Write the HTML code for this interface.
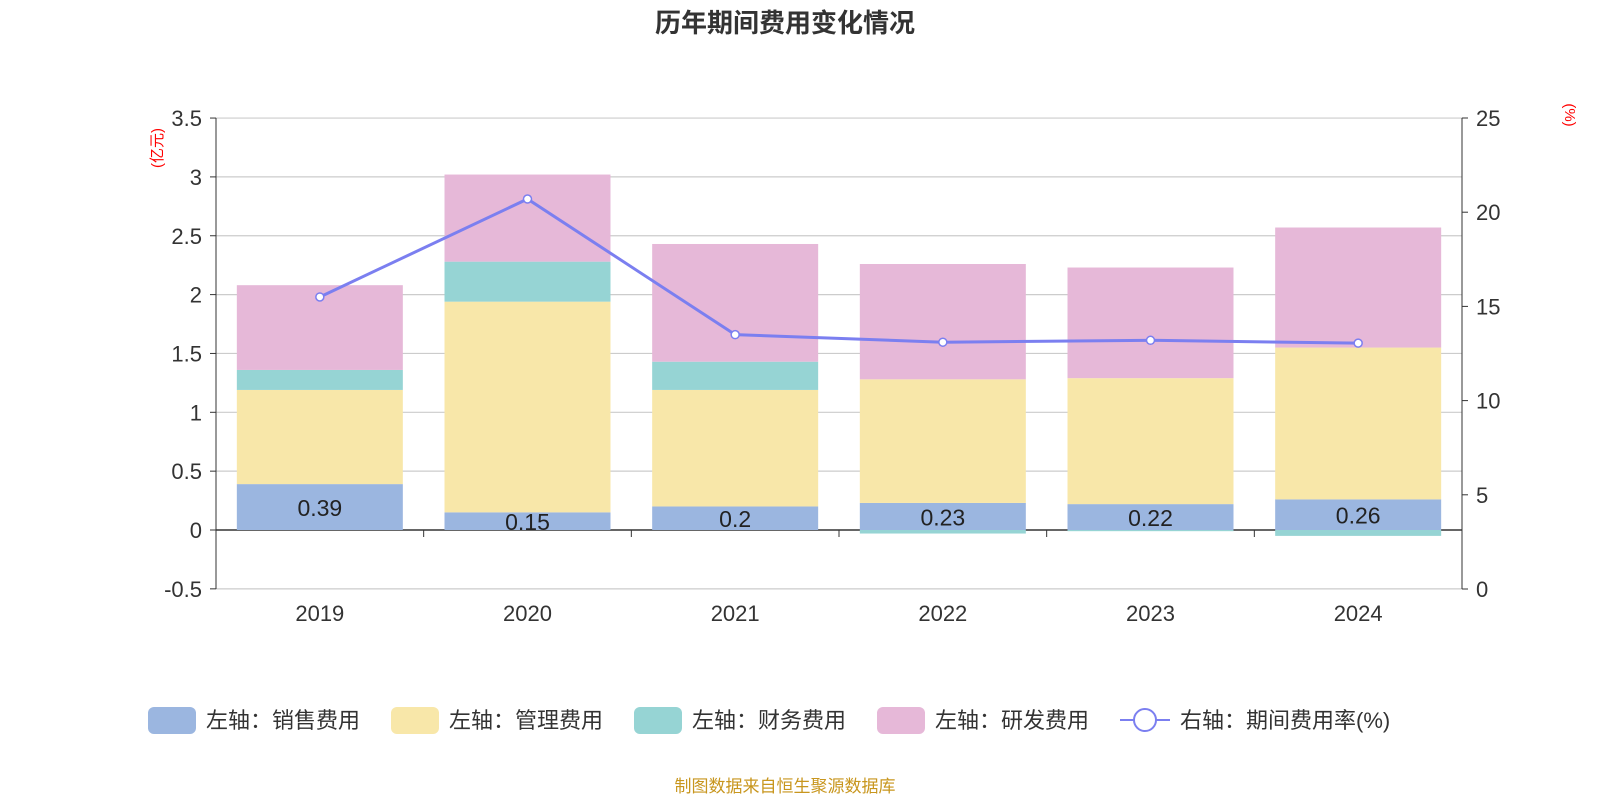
<!DOCTYPE html>
<html><head><meta charset="utf-8"><style>
body{margin:0;background:#fff;font-family:"Liberation Sans","Noto Sans CJK SC",sans-serif;}
svg text{font-family:"Liberation Sans","Noto Sans CJK SC",sans-serif;}
</style></head><body>
<svg id="c" width="1600" height="800" xmlns="http://www.w3.org/2000/svg">
<text x="785" y="32" text-anchor="middle" font-size="26" font-weight="bold" fill="#333">历年期间费用变化情况</text>
<text transform="translate(162,148) rotate(-90)" text-anchor="middle" font-size="15" fill="red">(亿元)</text>
<text transform="translate(1565,115) rotate(90)" text-anchor="middle" font-size="15" fill="red">(%)</text>
<g id="grid"></g><g id="bars"></g><g id="axes"></g><g id="line"></g>
<text x="785" y="792" text-anchor="middle" font-size="17" fill="#c8961e">制图数据来自恒生聚源数据库</text>
<g id="legend"></g>
</svg>
<script>
const categories=["2019","2020","2021","2022","2023","2024"];
const sales=[0.39,0.15,0.2,0.23,0.22,0.26];
const mgmt=[0.80,1.79,0.99,1.05,1.07,1.29];
const finance=[0.17,0.34,0.24,-0.03,-0.01,-0.05];
const rnd=[0.72,0.74,1.0,0.98,0.94,1.02];
const rate=[15.5,20.7,13.5,13.1,13.2,13.05];
const leftTicks=[-0.5,0,0.5,1,1.5,2,2.5,3,3.5];
const rightTicks=[0,5,10,15,20,25];
const NS="http://www.w3.org/2000/svg";
const X0=216,X1=1462,band=(X1-X0)/categories.length,bw=166;
const yL=v=>530-v*117.7;
const yR=v=>589-v*18.84;
const xC=i=>X0+band*(i+0.5);
function mk(t,a,p){const e=document.createElementNS(NS,t);for(const k in a)e.setAttribute(k,a[k]);document.getElementById(p).appendChild(e);return e;}
leftTicks.forEach(v=>{
 const l=mk('line',{x1:X0,x2:X1,y1:yL(v),y2:yL(v),stroke:v===0?'#333':'#ccc','stroke-width':v===0?1.5:1.2},'grid');
 
 
 const t=mk('text',{x:X0-14,y:yL(v)+8,'text-anchor':'end','font-size':22,fill:'#333'},'axes');t.textContent=v;
 
 
 mk('line',{x1:X0-6,x2:X0,y1:yL(v),y2:yL(v),stroke:'#333'},'axes');
});
mk('line',{x1:X0,x2:X0,y1:118,y2:589,stroke:'#333'},'axes');
mk('line',{x1:X1,x2:X1,y1:118,y2:589,stroke:'#333'},'axes');
rightTicks.forEach(v=>{
 mk('line',{x1:X1,x2:X1+6,y1:yR(v),y2:yR(v),stroke:'#333'},'axes');
 const t=mk('text',{x:X1+14,y:yR(v)+8,'font-size':22,fill:'#333'},'axes');t.textContent=v;
 
 
});
for(let i=0;i<=categories.length;i++)mk('line',{x1:X0+band*i,x2:X0+band*i,y1:530,y2:537,stroke:'#333'},'axes');
const series=[[sales,'#9bb6e0','sales'],[mgmt,'#f8e7a9','mgmt'],[finance,'#96d4d4','finance'],[rnd,'#e6b8d8','rnd']];
categories.forEach((c,i)=>{
 let pos=0,neg=0;
 series.forEach(([arr,col,n])=>{
  const v=arr[i];let y0,y1;
  if(v>=0){y0=pos;y1=pos+v;pos=y1;}else{y0=neg;y1=neg+v;neg=y1;}
  const r=mk('rect',{x:xC(i)-bw/2,y:Math.min(yL(y0),yL(y1)),width:bw,height:Math.abs(yL(y1)-yL(y0)),fill:col},'bars');
  
  
 });
 const t=mk('text',{x:xC(i),y:yL(sales[i]/2)+9,'text-anchor':'middle','font-size':23,fill:'#222'},'bars');t.textContent=sales[i];
 
 
 const xl=mk('text',{x:xC(i),y:621,'text-anchor':'middle','font-size':22,fill:'#333'},'axes');xl.textContent=c;
 
 
});
const pl=mk('polyline',{points:rate.map((v,i)=>xC(i)+','+yR(v)).join(' '),fill:'none',stroke:'#7b7ff0','stroke-width':3},'line');


rate.forEach((v,i)=>{const p=mk('circle',{cx:xC(i),cy:yR(v),r:4,fill:'#fff',stroke:'#7b7ff0','stroke-width':1.5},'line');
 
 });
const leg=[['左轴：销售费用','#9bb6e0',148],['左轴：管理费用','#f8e7a9',391],['左轴：财务费用','#96d4d4',634],['左轴：研发费用','#e6b8d8',877]];
leg.forEach(([t,c,x])=>{
 const r=mk('rect',{x:x,y:707,width:48,height:27,rx:6,fill:c},'legend');
 
 
 const tx=mk('text',{x:x+58,y:728,'font-size':22,fill:'#333'},'legend');tx.textContent=t;
 
 
});
mk('line',{x1:1120,x2:1170,y1:720,y2:720,stroke:'#7b7ff0','stroke-width':2},'legend');
mk('circle',{cx:1145,cy:720,r:11,fill:'#fff',stroke:'#7b7ff0','stroke-width':2},'legend');
const lt=mk('text',{x:1180,y:728,'font-size':22,fill:'#333'},'legend');lt.textContent='右轴：期间费用率(%)';


</script>
</body></html>
